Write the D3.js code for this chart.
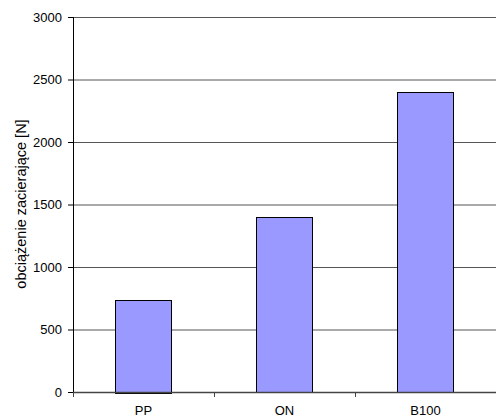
<!DOCTYPE html>
<html>
<head>
<meta charset="utf-8">
<script src="https://cdn.jsdelivr.net/npm/d3@7"></script>
<style>
  body { margin: 0; background: #fff; }
  text { font-family: "Liberation Sans", Arial, sans-serif; font-size: 13px; fill: #000; }
</style>
</head>
<body>
<script>
var categories = ["PP", "ON", "B100"];
var values = [740, 1400, 2400];
var yTicks = [0, 500, 1000, 1500, 2000, 2500, 3000];
var yLabel = "obciążenie zacierające [N]";

var margin = { top: 17, right: 0, bottom: 27, left: 73 };
var width = 496 - margin.left - margin.right;
var height = 419 - margin.top - margin.bottom;

var svg = d3.select("body").append("svg")
    .attr("width", 496)
    .attr("height", 419);

var g = svg.append("g")
    .attr("transform", "translate(" + margin.left + "," + margin.top + ")");

var xb = d3.scaleBand().domain(categories).range([0, width]);
var y = d3.scaleLinear().domain([0, 3000]).range([height, 0]);

// gridlines
g.selectAll(".grid")
    .data(yTicks.slice(1))
    .enter().append("line")
    .attr("x1", 0).attr("x2", width)
    .attr("y1", function (d) { return y(d) + 0.5; })
    .attr("y2", function (d) { return y(d) + 0.5; })
    .attr("stroke", "#555")
    .attr("stroke-width", 1);

// bars
g.selectAll(".bar")
    .data(values)
    .enter().append("rect")
    .attr("class", "bar")
    .attr("x", function (d, i) { return Math.round(xb(categories[i]) + xb.bandwidth() * 0.3) + 0.5; })
    .attr("y", function (d) { return Math.round(y(d)) + 0.5; })
    .attr("width", Math.round(xb.bandwidth() * 0.4))
    .attr("height", function (d) { return Math.round(height - y(d)); })
    .attr("fill", "#9999ff")
    .attr("stroke", "#000")
    .attr("stroke-width", 1);

// y axis
var yAxis = g.append("g")
    .call(d3.axisLeft(y).tickValues(yTicks).tickFormat(d3.format("d")).tickSize(5).tickPadding(6));
yAxis.select(".domain").attr("stroke", "#000").attr("d", "M0.5," + height + "V0");
yAxis.selectAll(".tick line").attr("stroke", "#000");
yAxis.attr("font-size", null).attr("font-family", null);

// x axis
var xAxisG = g.append("g")
    .attr("transform", "translate(0," + height + ")");
xAxisG.append("line")
    .attr("x1", 0).attr("x2", width)
    .attr("y1", 0.5).attr("y2", 0.5)
    .attr("stroke", "#444").attr("stroke-width", 1.5);
xAxisG.selectAll(".xtick")
    .data(categories)
    .enter().append("line")
    .attr("x1", function (d) { return Math.round(xb(d)) + 0.5; })
    .attr("x2", function (d) { return Math.round(xb(d)) + 0.5; })
    .attr("y1", 0).attr("y2", 5)
    .attr("stroke", "#444");
xAxisG.selectAll(".xlab")
    .data(categories)
    .enter().append("text")
    .attr("x", function (d) { return xb(d) + xb.bandwidth() / 2; })
    .attr("y", 23)
    .attr("text-anchor", "middle")
    .text(function (d) { return d; });

// y label
svg.append("text")
    .attr("transform", "translate(20.5,204) rotate(-90)")
    .attr("text-anchor", "middle")
    .attr("dy", "0.35em")
    .style("font-size", "14.5px")
    .text(yLabel);
</script>
</body>
</html>
